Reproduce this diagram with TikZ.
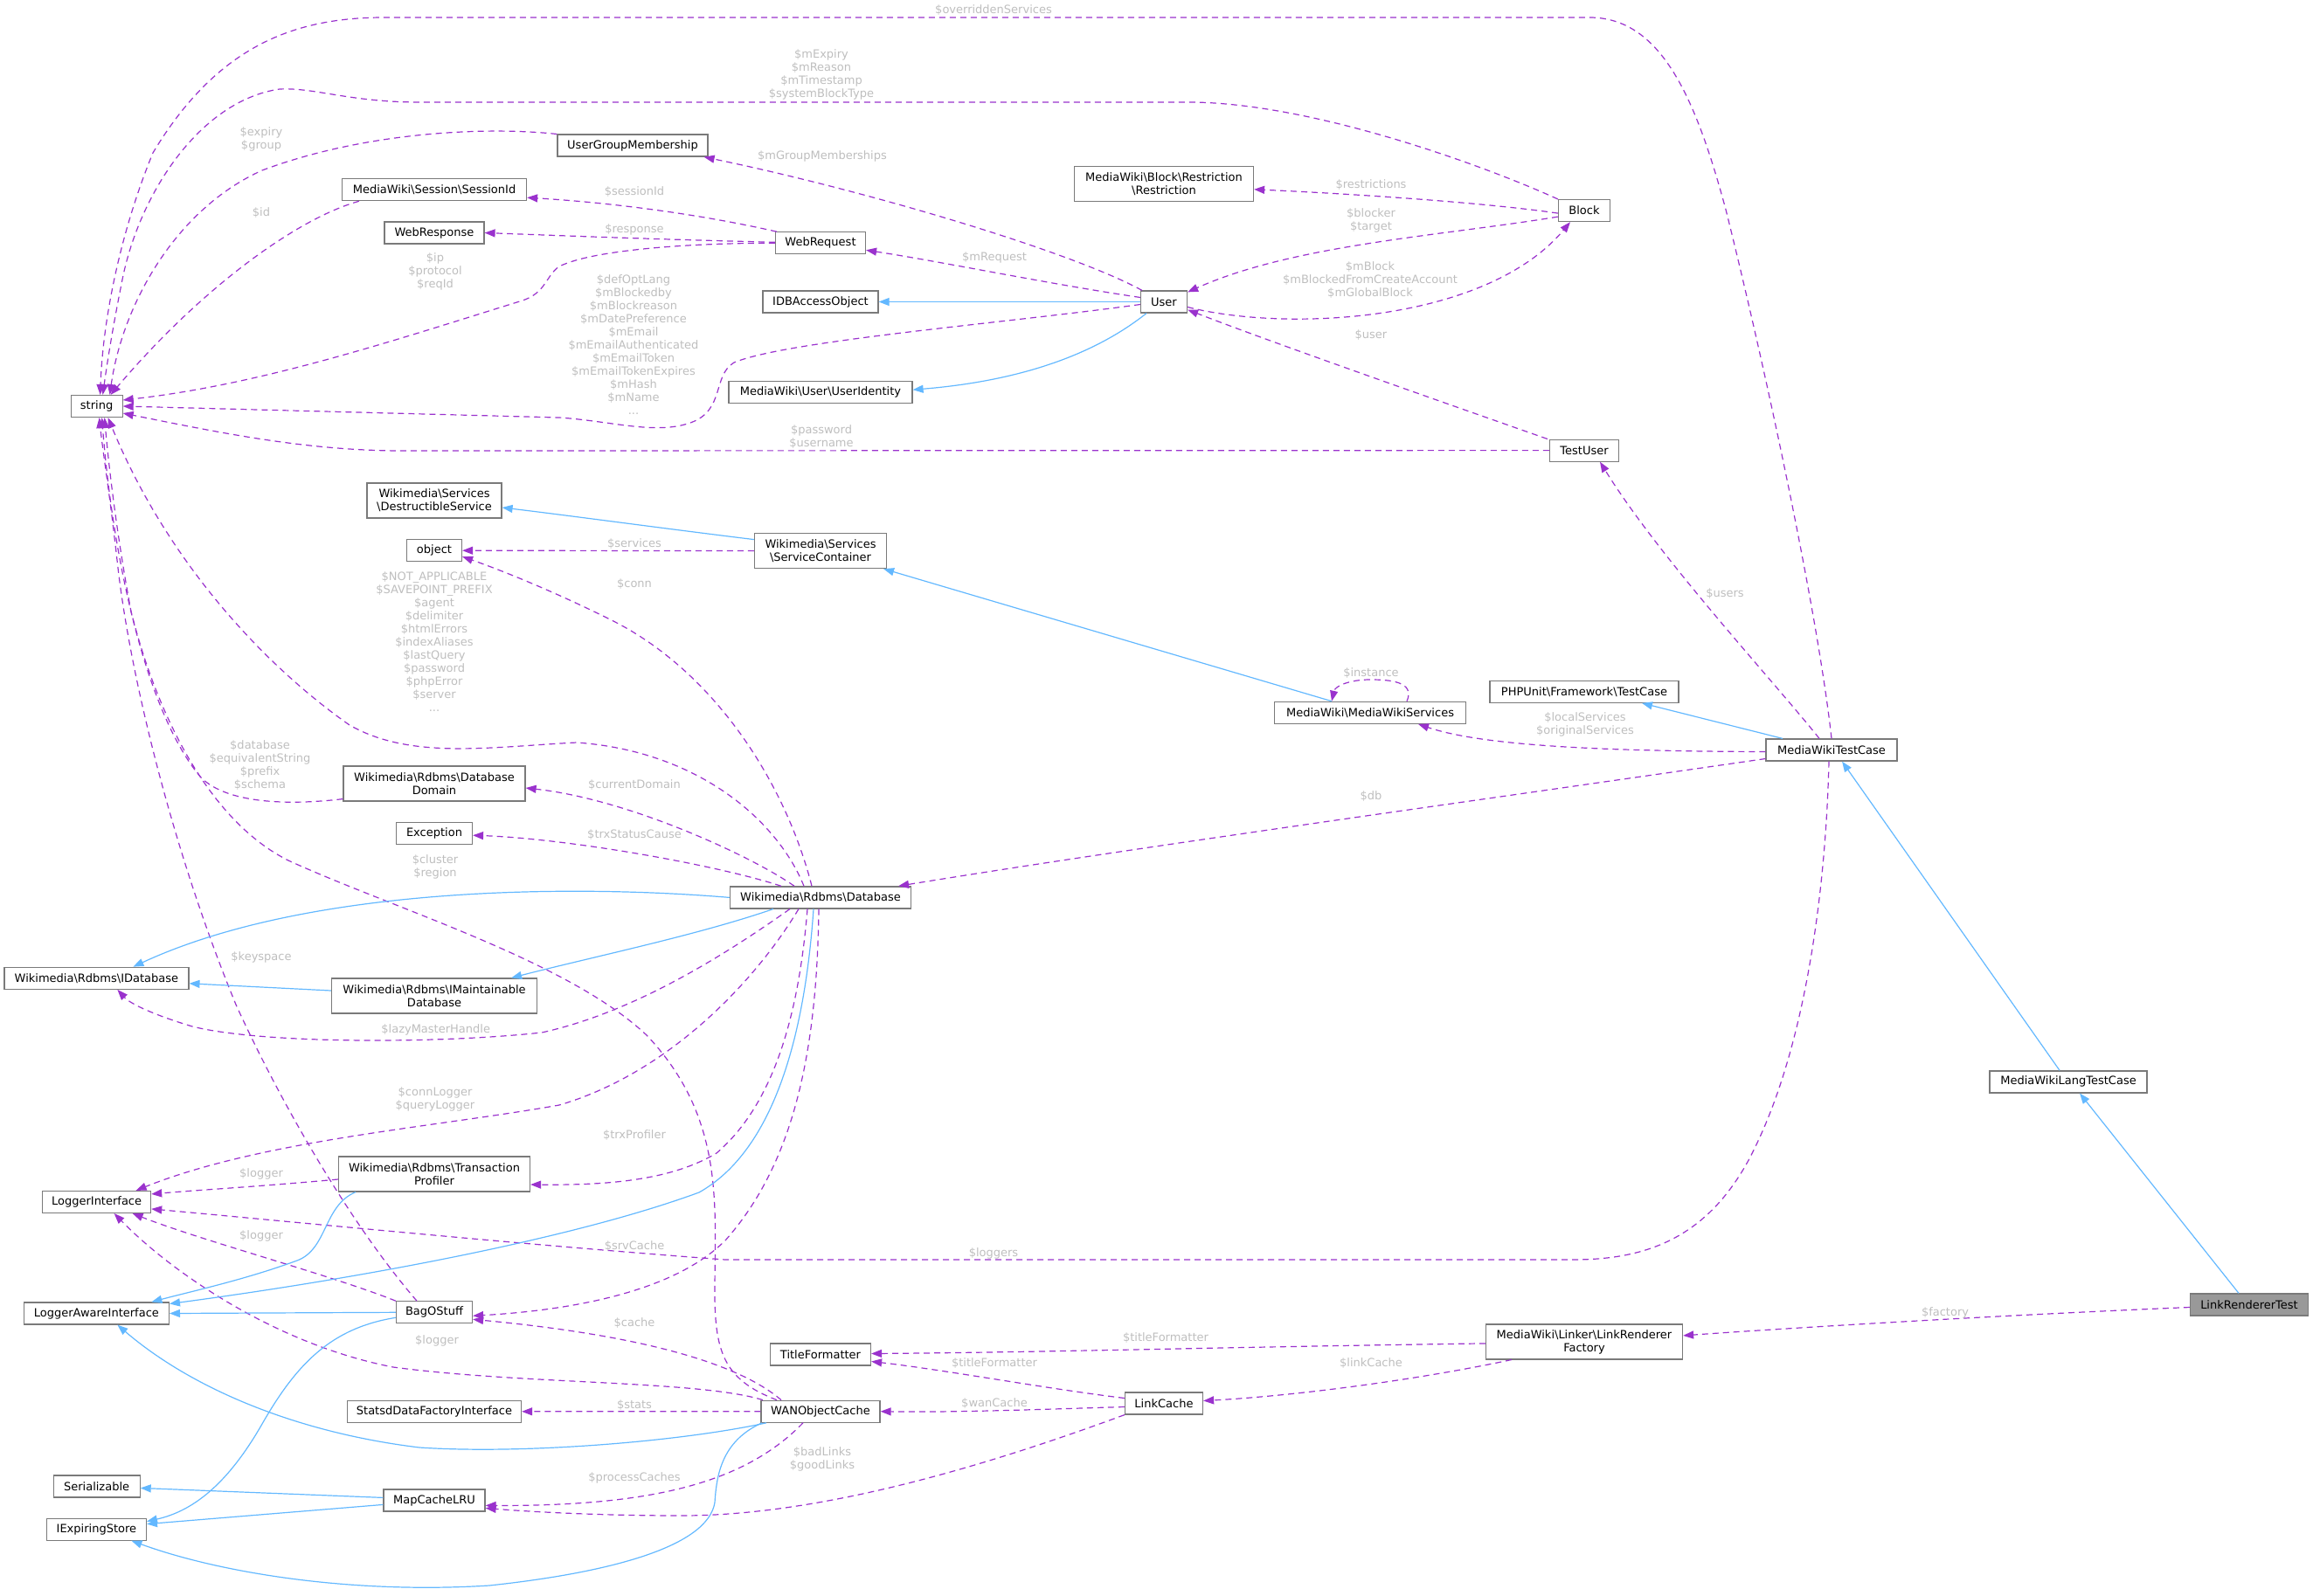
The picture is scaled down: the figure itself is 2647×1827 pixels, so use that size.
\documentclass[tikz,border=0pt]{standalone}
\usepackage{fontspec}
\setmainfont{DejaVu Sans}
\usetikzlibrary{arrows.meta}
\definecolor{purp}{HTML}{9A32CD}
\definecolor{sblue}{HTML}{63B8FF}
\definecolor{lblgray}{HTML}{BEBEBE}
\definecolor{bordergray}{HTML}{7A7A7A}
\definecolor{rootfill}{HTML}{999999}
\def\mybs{\textbackslash}
\tikzset{
  cls/.style={draw=bordergray, fill=white, line width=1.2pt, inner xsep=3pt, inner ysep=0pt, minimum height=25pt, align=center, font=\fontsize{13}{15}\selectfont, text=black},
  cls2/.style={cls, minimum height=40pt},
  root/.style={cls, fill=rootfill},
  use/.style={draw=purp, line width=1.2pt, dash pattern=on 7pt off 5pt, -{Triangle[length=12pt,width=9pt]}},
  inh/.style={draw=sblue, line width=1.2pt, -{Triangle[length=12pt,width=9pt]}},
  lbl/.style={text=lblgray, align=center, font=\fontsize{13}{15}\selectfont, inner sep=0pt},
}
\begin{document}
\begin{tikzpicture}[x=1pt,y=-1pt]
\useasboundingbox (0,0) rectangle (2647,1827);
% ---------------- nodes ----------------
\node[cls, minimum width=59pt] (str) at (110.6,465) {string};
\node[cls, minimum width=172pt] (ugm) at (724,166.6) {UserGroupMembership};
\node[cls, minimum width=211pt] (sid) at (497,217.2) {MediaWiki\mybs Session\mybs SessionId};
\node[cls, minimum width=114pt] (wresp) at (497,266.5) {WebResponse};
\node[cls2, minimum width=154pt] (dsvc) at (497,573) {Wikimedia\mybs Services\\\mybs DestructibleService};
\node[cls, minimum width=63pt] (obj) at (497,630.2) {object};
\node[cls, minimum width=103pt] (wreq) at (939,278.3) {WebRequest};
\node[cls, minimum width=132pt] (idb) at (939,345.5) {IDBAccessObject};
\node[cls, minimum width=210pt] (uid) at (939,449.2) {MediaWiki\mybs User\mybs UserIdentity};
\node[cls, minimum width=53pt] (user) at (1332,345.5) {User};
\node[cls2, minimum width=205pt] (restr) at (1332,210.8) {MediaWiki\mybs Block\mybs Restriction\\\mybs Restriction};
\node[cls2, minimum width=151pt] (sc) at (939,630.6) {Wikimedia\mybs Services\\\mybs ServiceContainer};
\node[cls, minimum width=59pt] (block) at (1813,241.1) {Block};
\node[cls, minimum width=79pt] (tuser) at (1813,515.6) {TestUser};
\node[cls2, minimum width=208pt] (dom) at (497,897) {Wikimedia\mybs Rdbms\mybs Database\\Domain};
\node[cls, minimum width=87pt] (exc) at (497,954.2) {Exception};
\node[cls, minimum width=211pt] (idbase) at (110.4,1119.8) {Wikimedia\mybs Rdbms\mybs IDatabase};
\node[cls2, minimum width=235pt] (imd) at (497,1140) {Wikimedia\mybs Rdbms\mybs IMaintainable\\Database};
\node[cls, minimum width=207pt] (db) at (939,1027.4) {Wikimedia\mybs Rdbms\mybs Database};
\node[cls, minimum width=219pt] (mws) at (1568,815.8) {MediaWiki\mybs MediaWikiServices};
\node[cls, minimum width=216pt] (phpu) at (1813,791.8) {PHPUnit\mybs Framework\mybs TestCase};
\node[cls, minimum width=150pt] (mwtc) at (2096,858.5) {MediaWikiTestCase};
\node[cls, minimum width=124pt] (logi) at (110.6,1375.9) {LoggerInterface};
\node[cls2, minimum width=219pt] (tp) at (497,1344) {Wikimedia\mybs Rdbms\mybs Transaction\\Profiler};
\node[cls, minimum width=166pt] (lai) at (110.4,1503.5) {LoggerAwareInterface};
\node[cls, minimum width=87pt] (bag) at (497,1502.3) {BagOStuff};
\node[cls, minimum width=199pt] (sdfi) at (497,1615.8) {StatsdDataFactoryInterface};
\node[cls, minimum width=99pt] (ser) at (110.6,1701.4) {Serializable};
\node[cls, minimum width=116pt] (mcl) at (497,1717.4) {MapCacheLRU};
\node[cls, minimum width=114pt] (ies) at (110.4,1750.6) {IExpiringStore};
\node[cls, minimum width=115pt] (tf) at (939,1550.5) {TitleFormatter};
\node[cls, minimum width=136pt] (wan) at (939,1615.7) {WANObjectCache};
\node[cls, minimum width=89pt] (lc) at (1332,1606.5) {LinkCache};
\node[cls2, minimum width=225pt] (lrf) at (1813,1535.9) {MediaWiki\mybs Linker\mybs LinkRenderer\\Factory};
\node[cls, minimum width=180pt] (mwltc) at (2367,1238.4) {MediaWikiLangTestCase};
\node[root, minimum width=135pt] (lrt) at (2574,1493.5) {LinkRendererTest};
% ---------------- usage edges ----------------
\draw[use] (mwtc.north) .. controls (2080,700) and (2020,420) .. (1975,240) .. controls (1940,110) and (1900,20) .. (1819,20) -- (440,20) .. controls (340,20) and (250,50) .. (175,175) .. controls (140,260) and (118,360) .. ([xshift=4]str.north);
\draw[use] (block.north west) .. controls (1700,190) and (1500,117) .. (1360,117) -- (480,117) .. controls (400,117) and (360,100) .. (320,102) .. controls (230,115) and (160,220) .. (140,320) .. controls (128,380) and (122,420) .. ([xshift=7]str.north);
\draw[use] (ugm.north west) .. controls (560,145) and (420,150) .. (300,195) .. controls (200,240) and (140,350) .. ([xshift=15]str.north);
\draw[use] ([xshift=20]sid.south west) .. controls (340,250) and (230,330) .. ([xshift=16]str.north);
\draw[use] (wreq.west) .. controls (800,278) and (680,285) .. (640,305) .. controls (625,315) and (625,335) .. (598,344) .. controls (450,390) and (300,440) .. ([yshift=7]str.east);
\draw[use] ([yshift=1]wreq.west) .. controls (750,274) and (650,270) .. (wresp.east);
\draw[use] ([xshift=2]wreq.north west) .. controls (800,245) and (700,232) .. ([yshift=-9]sid.east);
\draw[use] ([xshift=2]user.north west) .. controls (1230,290) and (1000,220) .. ([xshift=-5]ugm.south east);
\draw[use] ([yshift=5]user.west) .. controls (1200,325) and (1080,300) .. ([yshift=-8]wreq.east);
\draw[use] ([yshift=-3]user.west) .. controls (1150,370) and (900,390) .. (840,415) .. controls (815,430) and (830,470) .. (790,484) .. controls (750,498) and (700,482) .. (640,478) -- (str.east);
\draw[use] (tuser.west) -- (460,516) .. controls (350,516) and (250,495) .. ([yshift=-8]str.east);
\draw[use] ([yshift=-3]block.west) .. controls (1700,232) and (1550,222) .. ([yshift=-6]restr.east);
\draw[use] ([yshift=-7]block.west) .. controls (1650,270) and (1480,280) .. ([yshift=-2]user.north east);
\draw[use] ([yshift=-6]user.east) .. controls (1470,380) and (1700,370) .. ([xshift=-16]block.south);
\draw[use] ([xshift=-2]tuser.north west) .. controls (1650,460) and (1450,390) .. ([yshift=-9]user.east);
\draw[use] (sc.west) -- (obj.east);
\draw[use] ([xshift=-10]db.north) .. controls (900,900) and (820,770) .. (700,710) .. controls (640,680) and (580,655) .. ([yshift=-7]obj.east);
\draw[use] ([xshift=-19]db.north) .. controls (890,940) and (800,860) .. (660,850) .. controls (560,855) and (470,870) .. (400,830) .. controls (300,760) and (190,640) .. ([xshift=13]str.south);
\draw[use] ([yshift=3]dom.south west) .. controls (330,922) and (260,920) .. (230,890) .. controls (170,820) and (130,650) .. ([xshift=6]str.south);
\draw[use] ([xshift=-30]db.north) .. controls (860,980) and (720,915) .. ([yshift=-5]dom.east);
\draw[use] ([xshift=-45]db.north) .. controls (820,990) and (650,960) .. ([yshift=-2]exc.east);
\draw[use] ([xshift=-50]wan.north) .. controls (830,1580) and (818,1550) .. (818,1480) .. controls (818,1380) and (830,1280) .. (740,1185) .. controls (650,1100) and (450,1040) .. (330,985) .. controls (240,940) and (180,820) .. (150,700) .. controls (135,620) and (125,540) .. ([xshift=9]str.south);
\draw[use] ([xshift=-20]bag.north) .. controls (400,1400) and (320,1260) .. (270,1150) .. controls (200,980) and (150,780) .. (135,650) .. controls (125,560) and (118,520) .. ([xshift=3]str.south);
\draw[use] ([xshift=-35]db.south) .. controls (820,1100) and (720,1160) .. (620,1182) .. controls (500,1195) and (300,1195) .. (220,1175) .. controls (180,1163) and (150,1150) .. ([xshift=24]idbase.south);
\draw[use] ([xshift=-25]db.south) .. controls (860,1130) and (760,1230) .. (640,1265) .. controls (500,1290) and (300,1305) .. ([xshift=45]logi.north);
\draw[use] ([xshift=-15]db.south) .. controls (915,1150) and (890,1260) .. (820,1320) .. controls (770,1350) and (700,1357) .. ([yshift=-12]tp.east);
\draw[use] ([xshift=-2]db.south) .. controls (935,1200) and (910,1330) .. (830,1420) .. controls (770,1480) and (650,1500) .. ([yshift=-4]bag.east);
\draw[use] ([xshift=-3]mwtc.south) .. controls (2090,1000) and (2070,1200) .. (2000,1330) .. controls (1950,1420) and (1880,1442) .. (1800,1442) -- (830,1442) .. controls (600,1425) and (350,1400) .. ([yshift=-8]logi.east);
\draw[use] ([yshift=-6]tp.west) .. controls (300,1358) and (230,1362) .. ([yshift=9]logi.east);
\draw[use] (bag.north west) .. controls (380,1460) and (230,1420) .. ([xshift=41]logi.south);
\draw[use] ([xshift=-66]wan.north) .. controls (800,1580) and (600,1585) .. (450,1565) .. controls (320,1540) and (200,1460) .. ([xshift=20]logi.south);
\draw[use] ([xshift=-45]wan.north) .. controls (850,1565) and (750,1530) .. ([yshift=-8]bag.east);
\draw[use] (wan.west) -- (sdfi.east);
\draw[use] ([xshift=-20]wan.south) .. controls (850,1700) and (740,1724) .. ([yshift=-6]mcl.east);
\draw[use] (lc.south west) .. controls (1150,1670) and (950,1735) .. (780,1735) .. controls (680,1735) and (600,1730) .. ([yshift=-9]mcl.east);
\draw[use] ([yshift=-4]lc.west) .. controls (1200,1613) and (1100,1617) .. (wan.east);
\draw[use] ([yshift=6]lc.west) .. controls (1200,1590) and (1080,1568) .. ([yshift=-8]tf.east);
\draw[use] ([yshift=-2]lrf.west) .. controls (1400,1542) and (1200,1548) .. ([yshift=1]tf.east);
\draw[use] ([xshift=30]lrf.south west) .. controls (1620,1580) and (1480,1598) .. ([yshift=3]lc.east);
\draw[use] ([yshift=-3]lrt.west) .. controls (2300,1505) and (2050,1520) .. ([yshift=7]lrf.east);
\draw[use] ([xshift=-14]mwtc.north) .. controls (2030,780) and (1900,640) .. ([xshift=18]tuser.south);
\draw[use] ([yshift=-2]mwtc.west) .. controls (1850,860) and (1700,855) .. ([xshift=55]mws.south);
\draw[use] ([yshift=-10]mwtc.west) .. controls (1700,915) and (1300,970) .. ([xshift=-15]db.north east);
\draw[use] ([xshift=42]mws.north) .. controls (1620,780) and (1590,778) .. (1568,778) .. controls (1545,778) and (1528,785) .. ([xshift=-44]mws.north);
% ---------------- inheritance edges ----------------
\draw[inh] (user.west) -- (idb.east);
\draw[inh] ([xshift=-20]user.south) .. controls (1260,400) and (1180,435) .. ([yshift=3]uid.east);
\draw[inh] ([yshift=13]sc.west) .. controls (760,605) and (650,590) .. ([yshift=-8]dsvc.east);
\draw[inh] ([xshift=-44]mws.north) -- ([xshift=-4]sc.south east);
\draw[inh] ([xshift=-56]mwtc.north) -- ([xshift=66]phpu.south);
\draw[inh] ([xshift=-10]mwltc.north) -- ([xshift=12]mwtc.south);
\draw[inh] ([xshift=-12]lrt.north) -- ([xshift=13]mwltc.south);
\draw[inh] (db.west) .. controls (650,1012) and (350,1015) .. ([xshift=42]idbase.north);
\draw[inh] ([xshift=-54]db.south) .. controls (800,1070) and (680,1095) .. ([xshift=-30]imd.north east);
\draw[inh] ([yshift=6]imd.west) -- ([yshift=-6]idbase.east);
\draw[inh] ([xshift=-8]db.south) .. controls (920,1200) and (880,1320) .. (800,1365) .. controls (650,1420) and (400,1465) .. ([yshift=11]lai.east);
\draw[inh] ([xshift=-90]tp.south) .. controls (370,1380) and (375,1430) .. (340,1443) .. controls (280,1465) and (220,1478) .. ([xshift=63]lai.north);
\draw[inh] (bag.west) -- (lai.east);
\draw[inh] ([xshift=-62]wan.south) .. controls (780,1650) and (600,1665) .. (480,1657) .. controls (340,1640) and (220,1590) .. ([xshift=24]lai.south);
\draw[inh] ([yshift=-6]bag.west) .. controls (380,1520) and (340,1560) .. (300,1630) .. controls (260,1700) and (220,1730) .. ([yshift=9]ies.east);
\draw[inh] ([yshift=3]mcl.west) -- ([yshift=-2]ser.east);
\draw[inh] ([yshift=-5]mcl.west) -- ([yshift=6]ies.east);
\draw[inh] ([xshift=-67]wan.south) .. controls (825,1650) and (820,1690) .. (818,1720) .. controls (810,1770) and (700,1800) .. (560,1815) .. controls (400,1825) and (250,1800) .. ([xshift=40]ies.south);
% ---------------- labels ----------------
\node[lbl] (l1) at (1137,12) {\$overriddenServices};
\node[lbl] (l2) at (940,85) {\$mExpiry\\\$mReason\\\$mTimestamp\\\$systemBlockType};
\node[lbl] (l3) at (299,159) {\$expiry\\\$group};
\node[lbl] (l4) at (299,244) {\$id};
\node[lbl] (l5) at (498,311) {\$ip\\\$protocol\\\$reqId};
\node[lbl] (l6) at (726,262.5) {\$response};
\node[lbl] (l7) at (726,220) {\$sessionId};
\node[lbl] (l8) at (941,179) {\$mGroupMemberships};
\node[lbl] (l9) at (1138,295) {\$mRequest};
\node[lbl] (l10) at (725,394.5) {\$defOptLang\\\$mBlockedby\\\$mBlockreason\\\$mDatePreference\\\$mEmail\\\$mEmailAuthenticated\\\$mEmailToken\\\$mEmailTokenExpires\\\$mHash\\\$mName\\...};
\node[lbl] (l11) at (940,500) {\$password\\\$username};
\node[lbl] (l12) at (1569,211.5) {\$restrictions};
\node[lbl] (l13) at (1569,252) {\$blocker\\\$target};
\node[lbl] (l14) at (1568,320.5) {\$mBlock\\\$mBlockedFromCreateAccount\\\$mGlobalBlock};
\node[lbl] (l15) at (1569,383.5) {\$user};
\node[lbl] (l16) at (726,622.5) {\$services};
\node[lbl] (l17) at (726,669) {\$conn};
\node[lbl] (l18) at (497,735) {\$NOT\_APPLICABLE\\\$SAVEPOINT\_PREFIX\\\$agent\\\$delimiter\\\$htmlErrors\\\$indexAliases\\\$lastQuery\\\$password\\\$phpError\\\$server\\...};
\node[lbl] (l19) at (297.5,876) {\$database\\\$equivalentString\\\$prefix\\\$schema};
\node[lbl] (l20) at (726,898.5) {\$currentDomain};
\node[lbl] (l21) at (726,955.5) {\$trxStatusCause};
\node[lbl] (l22) at (498,992) {\$cluster\\\$region};
\node[lbl] (l23) at (299,1096) {\$keyspace};
\node[lbl] (l24) at (498.7,1178.5) {\$lazyMasterHandle};
\node[lbl] (l25) at (498,1258) {\$connLogger\\\$queryLogger};
\node[lbl] (l26) at (726,1300) {\$trxProfiler};
\node[lbl] (l27) at (299,1343.6) {\$logger};
\node[lbl] (l28) at (299,1414.7) {\$logger};
\node[lbl] (l29) at (726,1427) {\$srvCache};
\node[lbl] (l30) at (1137,1435) {\$loggers};
\node[lbl] (l31) at (500,1534.7) {\$logger};
\node[lbl] (l32) at (726,1514.7) {\$cache};
\node[lbl] (l33) at (726,1608) {\$stats};
\node[lbl] (l34) at (726,1692) {\$processCaches};
\node[lbl] (l35) at (941,1670.5) {\$badLinks\\\$goodLinks};
\node[lbl] (l36) at (1138,1606.7) {\$wanCache};
\node[lbl] (l37) at (1138,1560.7) {\$titleFormatter};
\node[lbl] (l38) at (1334,1532) {\$titleFormatter};
\node[lbl] (l39) at (1569,1560.7) {\$linkCache};
\node[lbl] (l40) at (2226,1502.7) {\$factory};
\node[lbl] (l41) at (1974,680) {\$users};
\node[lbl] (l42) at (1814,829.5) {\$localServices\\\$originalServices};
\node[lbl] (l43) at (1569,912) {\$db};
\node[lbl] (l44) at (1569,771) {\$instance};
\end{tikzpicture}
\end{document}
